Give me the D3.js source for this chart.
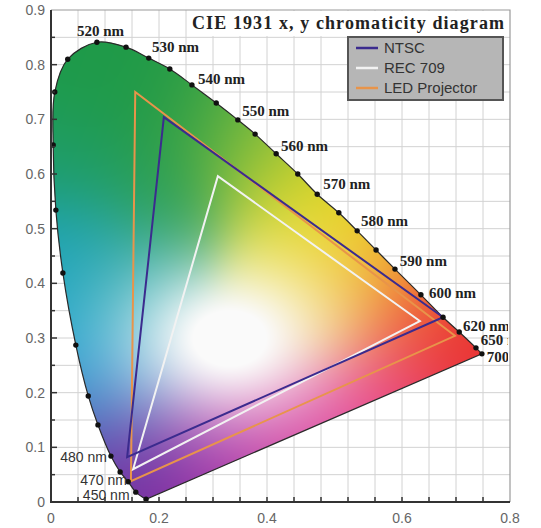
<!DOCTYPE html>
<meta charset="utf-8">
<script src="https://d3js.org/d3.v7.min.js"></script>
<style>
  body { margin: 0; background: #fff; }
</style>
<div id="chart"></div>
<script>

// spectral locus (in the chart's grid units)
var locusX = [0.176, 0.157, 0.143, 0.128, 0.111, 0.087, 0.069, 0.046, 0.022, 0.009, 0.004, 0.007, 0.031,
              0.085, 0.139, 0.181, 0.220, 0.261, 0.306, 0.346, 0.378, 0.417, 0.457, 0.493, 0.533, 0.567,
              0.602, 0.637, 0.685, 0.726, 0.756, 0.787, 0.798];
var locusY = [0.005, 0.018, 0.037, 0.055, 0.084, 0.141, 0.194, 0.287, 0.419, 0.534, 0.653, 0.750, 0.810,
              0.841, 0.832, 0.812, 0.792, 0.763, 0.730, 0.699, 0.673, 0.637, 0.600, 0.563, 0.529, 0.496,
              0.461, 0.426, 0.379, 0.338, 0.311, 0.282, 0.271];

// wavelength labels
var wlText = ["520 nm", "530 nm", "540 nm", "550 nm", "560 nm", "570 nm", "580 nm", "590 nm", "600 nm", "620 nm", "650 nm", "700 nm"];
var wlX = [0.048, 0.187, 0.272, 0.354, 0.426, 0.504, 0.574, 0.646, 0.700, 0.763, 0.796, 0.807];
var wlY = [0.852, 0.823, 0.765, 0.706, 0.642, 0.573, 0.505, 0.432, 0.373, 0.313, 0.287, 0.256];
var blueText = ["480 nm", "470 nm", "450 nm"];
var blueX = [0.017, 0.054, 0.059];
var blueY = [0.073, 0.031, 0.004];

// gamut triangles (red, green, blue corners)
var gamutNames = ["NTSC", "REC 709", "LED Projector"];
var gamutColors = ["#3b2b8e", "#f2f2f2", "#e8944a"];
var ntscX = [0.726, 0.209, 0.141], ntscY = [0.338, 0.704, 0.082];
var rec709X = [0.683, 0.309, 0.152], rec709Y = [0.331, 0.596, 0.060];
var ledX = [0.748, 0.156, 0.148], ledY = [0.304, 0.750, 0.038];

// axis labels (the picture's labels 0.6 and 0.8 sit on the 13th and 17th grid line)
var xLabelPos = [0, 0.2, 0.4, 0.65, 0.85];
var xLabelText = ["0", "0.2", "0.4", "0.6", "0.8"];
var yLabelPos = [0, 0.1, 0.2, 0.3, 0.4, 0.5, 0.6, 0.7, 0.8, 0.9];

var W = 541, H = 528;
var x = d3.scaleLinear().domain([0, 0.85]).range([51, 510]);
var y = d3.scaleLinear().domain([0, 0.9]).range([502, 10]);

var svg = d3.select("#chart").append("svg")
    .attr("width", W).attr("height", H);

// grid
var gridX = d3.range(1, 17).map(function(i) { return i * 0.05; });
var gridY = d3.range(1, 18).map(function(i) { return i * 0.05; });
svg.append("g").selectAll("line").data(gridX).join("line")
    .attr("x1", d => x(d)).attr("x2", d => x(d))
    .attr("y1", y(0)).attr("y2", y(0.9))
    .attr("stroke", "#d2d2d2").attr("stroke-width", 1);
svg.append("g").selectAll("line").data(gridY).join("line")
    .attr("x1", x(0)).attr("x2", x(0.85))
    .attr("y1", d => y(d)).attr("y2", d => y(d))
    .attr("stroke", "#d2d2d2").attr("stroke-width", 1);
// frame top / right
svg.append("path")
    .attr("d", "M" + x(0) + "," + y(0.9) + "H" + x(0.85) + "V" + y(0))
    .attr("fill", "none").attr("stroke", "#9a9a9a").attr("stroke-width", 1.2);

// colour fill of the horseshoe
var pts = locusX.map(function(d, i) { return [x(d), y(locusY[i])]; });
var locusPath = d3.line().curve(d3.curveCatmullRom)(pts) + "Z";

var fillStops = [
  [0.09, 0.78, "#1e9a48"], [0.03, 0.62, "#1e9c62"], [0.02, 0.46, "#1ea4c0"],
  [0.05, 0.30, "#22a8d6"], [0.085, 0.18, "#3a8ccc"], [0.12, 0.08, "#6e34a4"],
  [0.17, 0.02, "#7a2c9e"], [0.30, 0.07, "#a838aa"], [0.45, 0.13, "#d844a0"],
  [0.62, 0.20, "#e8408a"], [0.76, 0.28, "#e82a2e"], [0.67, 0.34, "#ee5230"],
  [0.59, 0.42, "#f0a82a"], [0.51, 0.52, "#ecde22"], [0.50, 0.42, "#eede30"],
  [0.43, 0.60, "#bccc30"], [0.35, 0.68, "#70b840"], [0.24, 0.73, "#249a46"],
  [0.20, 0.56, "#2a9e52"], [0.11, 0.40, "#24a4a6"]
];
var stopPx = fillStops.map(function(s) {
  var c = d3.rgb(s[2]);
  return [x(s[0]), y(s[1]), c.r, c.g, c.b];
});
var cv = document.createElement("canvas");
cv.width = W; cv.height = H;
var ctx = cv.getContext("2d");
var img = ctx.createImageData(W, H);
var sig2 = 2 * 46 * 46;
var wcx = x(0.33), wcy = y(0.30);
for (var py = 30; py < 506; py++) {
  for (var px = 46; px < 490; px++) {
    var sw = 0, r = 0, g = 0, b = 0;
    for (var k = 0; k < stopPx.length; k++) {
      var dx = px - stopPx[k][0], dy = py - stopPx[k][1];
      var w = Math.exp(-(dx * dx + dy * dy) / sig2) + 1e-12;
      sw += w; r += w * stopPx[k][2]; g += w * stopPx[k][3]; b += w * stopPx[k][4];
    }
    r /= sw; g /= sw; b /= sw;
    var ex = (px - wcx) / 108, ey = (py - wcy) / 82;
    var t = Math.min(1, 1.12 * Math.exp(-(ex * ex + ey * ey)));
    r = r + (250 - r) * t; g = g + (250 - g) * t; b = b + (250 - b) * t;
    var o = (py * W + px) * 4;
    img.data[o] = r; img.data[o + 1] = g; img.data[o + 2] = b; img.data[o + 3] = 255;
  }
}
ctx.putImageData(img, 0, 0);

svg.append("clipPath").attr("id", "horseshoe")
  .append("path").attr("d", locusPath);
svg.append("clipPath").attr("id", "plotArea")
  .append("rect").attr("x", 0).attr("y", 0).attr("width", x(0.85) - 2).attr("height", H);
svg.append("image")
    .attr("href", cv.toDataURL())
    .attr("x", 0).attr("y", 0).attr("width", W).attr("height", H)
    .attr("clip-path", "url(#horseshoe)");

svg.append("path")
    .attr("d", locusPath)
    .attr("fill", "none").attr("stroke", "#2a2a2a").attr("stroke-width", 1.2);

// gamut triangles
var gamuts = [[ntscX, ntscY], [rec709X, rec709Y], [ledX, ledY]];
var order = [2, 1, 0];
order.forEach(function(i) {
  var g = gamuts[i];
  svg.append("path")
      .attr("d", d3.line()(g[0].map(function(d, j) { return [x(d), y(g[1][j])]; })) + "Z")
      .attr("fill", "none")
      .attr("stroke", gamutColors[i])
      .attr("stroke-width", 2);
});

// locus dots
svg.append("g").selectAll("circle").data(pts).join("circle")
    .attr("cx", d => d[0]).attr("cy", d => d[1])
    .attr("r", 2.7).attr("fill", "#111");

// wavelength labels (cut off at the plot's right edge, as in the picture)
svg.append("g").attr("clip-path", "url(#plotArea)")
  .selectAll("text").data(wlText).join("text")
    .attr("x", (d, i) => x(wlX[i])).attr("y", (d, i) => y(wlY[i]))
    .attr("font-family", "Liberation Serif, serif")
    .attr("font-weight", "bold").attr("font-size", 15)
    .attr("fill", "#222")
    .text(d => d);
svg.append("g").selectAll("text").data(blueText).join("text")
    .attr("x", (d, i) => x(blueX[i])).attr("y", (d, i) => y(blueY[i]))
    .attr("font-family", "Liberation Sans Narrow, Liberation Sans, sans-serif")
    .attr("font-size", 14)
    .attr("fill", "#333")
    .text(d => d);

// axes
var axisG = svg.append("g");
axisG.append("path")
    .attr("d", "M" + x(0) + "," + y(0.9) + "V" + y(0) + "H" + x(0.85))
    .attr("fill", "none").attr("stroke", "#333").attr("stroke-width", 2);
axisG.selectAll(".tx").data(gridX).join("line")
    .attr("x1", d => x(d)).attr("x2", d => x(d))
    .attr("y1", y(0)).attr("y2", y(0) - 5)
    .attr("stroke", "#333").attr("stroke-width", 1.5);
axisG.selectAll(".ty").data(gridY).join("line")
    .attr("x1", x(0)).attr("x2", function(d, i) { return x(0) + (i % 2 ? 6 : 4); })
    .attr("y1", d => y(d)).attr("y2", d => y(d))
    .attr("stroke", "#333").attr("stroke-width", 1.5);

svg.append("g").selectAll("text").data(xLabelPos).join("text")
    .attr("x", d => x(d)).attr("y", 523)
    .attr("text-anchor", "middle")
    .attr("font-family", "Liberation Sans, Arial, sans-serif")
    .attr("font-size", 14).attr("fill", "#666")
    .text((d, i) => xLabelText[i]);
svg.append("g").selectAll("text").data(yLabelPos).join("text")
    .attr("x", 45).attr("y", d => y(d) + 5)
    .attr("text-anchor", "end")
    .attr("font-family", "Liberation Sans, Arial, sans-serif")
    .attr("font-size", 14).attr("fill", "#666")
    .text(d => d === 0 ? "0" : d3.format(".1f")(d));

// title
svg.append("rect")
    .attr("x", 188).attr("y", 11).attr("width", 321).attr("height", 25)
    .attr("fill", "#fff");
svg.append("text")
    .attr("x", 192).attr("y", 29)
    .attr("font-family", "Liberation Serif, serif")
    .attr("font-weight", "bold").attr("font-size", 18)
    .attr("textLength", 312).attr("lengthAdjust", "spacing")
    .attr("fill", "#222")
    .text("CIE 1931 x, y chromaticity diagram");

// legend
var leg = svg.append("g").attr("transform", "translate(348,37)");
leg.append("rect")
    .attr("width", 155).attr("height", 63)
    .attr("fill", "#b6b6b6").attr("stroke", "#555").attr("stroke-width", 2);
gamutNames.forEach(function(n, i) {
  leg.append("line")
      .attr("x1", 8).attr("x2", 30)
      .attr("y1", 11 + i * 20).attr("y2", 11 + i * 20)
      .attr("stroke", gamutColors[i]).attr("stroke-width", 2.5);
  leg.append("text")
      .attr("x", 36).attr("y", 16 + i * 20)
      .attr("font-family", "Liberation Sans, Arial, sans-serif")
      .attr("font-size", 15).attr("fill", "#333")
      .text(n);
});

</script>
